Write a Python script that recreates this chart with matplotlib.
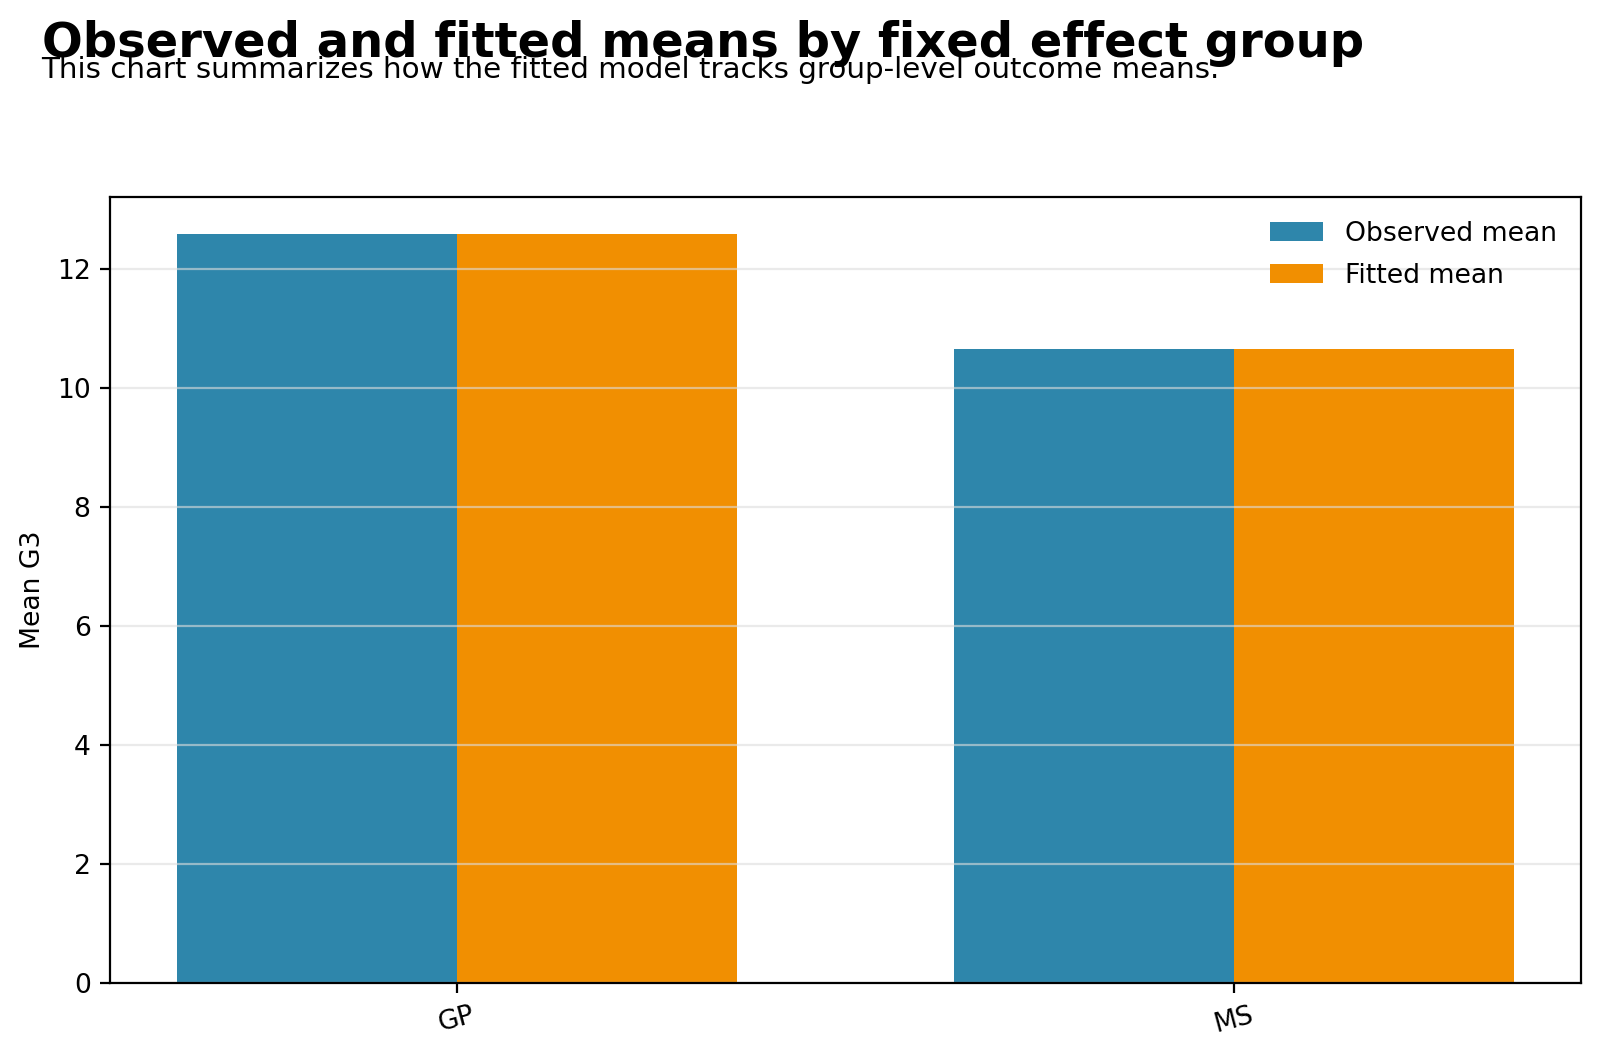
import matplotlib
matplotlib.use('Agg')
import matplotlib.pyplot as plt
import numpy as np

# Group-level means of G3
groups = ['GP', 'MS']
observed_mean = [12.58, 10.66]
fitted_mean = [12.58, 10.66]

OBS_COLOR = '#2E86AB'
FIT_COLOR = '#F18F01'

plt.rcParams['font.size'] = 9.6

fig = plt.figure(figsize=(8, 5.285), dpi=200)
ax = fig.add_axes([0.0688, 0.070, 0.9192, 0.7436])

x = np.arange(len(groups))
bar_width = 0.36

# Bars for observed and fitted means
ax.bar(x - bar_width / 2, observed_mean, bar_width, color=OBS_COLOR, label='Observed mean')
ax.bar(x + bar_width / 2, fitted_mean, bar_width, color=FIT_COLOR, label='Fitted mean')

ax.set_xticks(x)
ax.set_xticklabels(groups, rotation=15)
ax.set_ylabel('Mean G3')
ax.yaxis.grid(True, color='#dddddd', alpha=0.6, linewidth=0.8)
ax.legend(loc='upper right', frameon=False, labelspacing=0.6)

# Title and subtitle
fig.text(0.026, 0.981, 'Observed and fitted means by fixed effect group',
         fontsize=17.3, fontweight='bold', va='top', ha='left')
fig.text(0.026, 0.947, 'This chart summarizes how the fitted model tracks group-level outcome means.',
         fontsize=10.6, va='top', ha='left')

fig.savefig('out.png', dpi=200)
plt.close(fig)
